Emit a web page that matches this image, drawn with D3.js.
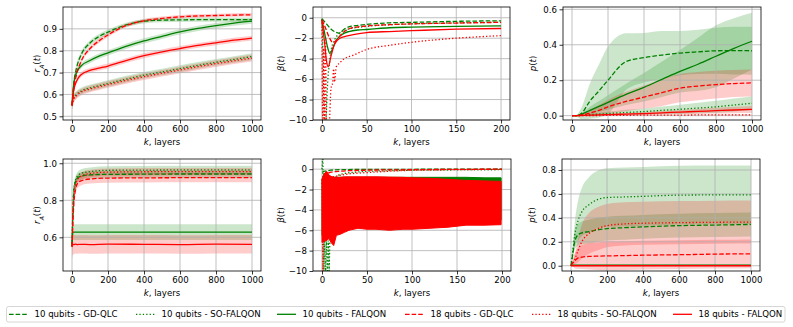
<!DOCTYPE html>
<html>
<head>
<meta charset="utf-8">
<script src="https://cdn.jsdelivr.net/npm/d3@7"></script>
<style>
body { margin: 0; background: #fff; }
text { font-family: "DejaVu Sans", sans-serif; }
</style>
</head>
<body>
<script>
// ---------- top left: r_A(t), 1000 layers ----------
var tl_k      = [0, 10, 25, 50, 100, 150, 200, 300, 400, 500, 600, 700, 800, 900, 1000];
var tl_gd10   = [0.55, 0.65, 0.72, 0.78, 0.835, 0.865, 0.885, 0.918, 0.935, 0.94, 0.941, 0.942, 0.942, 0.942, 0.942];
var tl_gd10sd = [0.02, 0.02, 0.018, 0.015, 0.012, 0.012, 0.012, 0.01, 0.01, 0.01, 0.01, 0.01, 0.01, 0.01, 0.01];
var tl_so10   = [0.55, 0.585, 0.6, 0.615, 0.63, 0.64, 0.65, 0.67, 0.688, 0.703, 0.718, 0.733, 0.747, 0.76, 0.773];
var tl_so10sd = [0.02, 0.018, 0.016, 0.015, 0.015, 0.015, 0.015, 0.015, 0.015, 0.015, 0.015, 0.015, 0.015, 0.015, 0.015];
var tl_fq10   = [0.55, 0.65, 0.7, 0.73, 0.755, 0.775, 0.79, 0.82, 0.845, 0.866, 0.886, 0.902, 0.915, 0.926, 0.935];
var tl_fq10sd = [0.02, 0.015, 0.013, 0.012, 0.012, 0.012, 0.012, 0.012, 0.012, 0.012, 0.012, 0.012, 0.012, 0.012, 0.012];
var tl_gd18   = [0.55, 0.63, 0.69, 0.75, 0.81, 0.845, 0.872, 0.915, 0.937, 0.948, 0.955, 0.959, 0.961, 0.963, 0.964];
var tl_gd18sd = [0.02, 0.015, 0.012, 0.01, 0.01, 0.01, 0.01, 0.008, 0.008, 0.008, 0.008, 0.008, 0.008, 0.008, 0.008];
var tl_so18   = [0.55, 0.58, 0.595, 0.61, 0.625, 0.635, 0.645, 0.664, 0.681, 0.697, 0.712, 0.727, 0.741, 0.754, 0.766];
var tl_so18sd = [0.02, 0.018, 0.016, 0.015, 0.015, 0.015, 0.015, 0.015, 0.015, 0.015, 0.015, 0.015, 0.015, 0.015, 0.015];
var tl_fq18   = [0.55, 0.62, 0.66, 0.69, 0.71, 0.72, 0.73, 0.755, 0.777, 0.795, 0.81, 0.824, 0.836, 0.848, 0.858];
var tl_fq18sd = [0.02, 0.013, 0.012, 0.011, 0.011, 0.011, 0.011, 0.011, 0.011, 0.011, 0.011, 0.011, 0.011, 0.011, 0.011];

// ---------- top middle: beta(t), 200 layers ----------
var tm_gd10k = [0, 5, 10, 15, 19, 25, 30, 40, 50, 75, 100, 150, 200];
var tm_gd10  = [-0.1, -0.6, -1.1, -1.4, -1.5, -1.1, -0.9, -0.75, -0.65, -0.5, -0.45, -0.35, -0.3];
var tm_so10k = [0, 1, 2, 3, 4, 5, 6, 7, 8, 10, 14, 20, 30, 50, 100, 200];
var tm_so10  = [-0.1, -3, -8, -10.5, -10.5, -9, -7, -5.5, -4.8, -3.3, -2.2, -1.5, -1.1, -0.85, -0.6, -0.45];
var tm_fq10k = [0, 3, 6, 9, 12, 16, 20, 25, 30, 40, 50, 75, 100, 150, 200];
var tm_fq10  = [-0.2, -1.5, -2.8, -3.5, -3.0, -2.2, -1.8, -1.5, -1.35, -1.2, -1.15, -0.98, -0.92, -0.85, -0.8];
var tm_gd18k = [0, 4, 8, 12, 15, 18, 23, 30, 40, 50, 75, 100, 150, 200];
var tm_gd18  = [-0.2, -1.0, -1.9, -2.4, -2.3, -2.0, -1.5, -1.1, -0.9, -0.8, -0.68, -0.6, -0.52, -0.45];
var tm_so18k = [0, 1, 2, 3, 4, 5, 6, 8, 10, 12, 13, 14, 15, 16, 20, 25, 34, 50, 75, 100, 150, 200];
var tm_so18  = [-0.2, -10.5, -3, -10.5, -2, -10.5, -10.5, -10.5, -7, -6.3, -5, -6.3, -5.5, -4.8, -4.4, -4.0, -3.7, -3.1, -2.7, -2.4, -2.0, -1.75];
var tm_fq18k = [0, 3, 5, 7, 10, 14, 20, 27, 35, 50, 75, 100, 150, 200];
var tm_fq18  = [-0.3, -2.5, -4.2, -4.8, -3.8, -2.6, -2.0, -1.8, -1.65, -1.45, -1.35, -1.27, -1.12, -1.05];

// ---------- top right: p(t), 1000 layers ----------
var tr_k      = [0, 25, 50, 100, 150, 200, 300, 400, 500, 600, 700, 800, 900, 1000];
var tr_gd10   = [0, 0, 0.01, 0.083, 0.14, 0.2, 0.305, 0.327, 0.342, 0.353, 0.36, 0.366, 0.367, 0.366];
var tr_gd10sd = [0, 0.005, 0.03, 0.1, 0.15, 0.19, 0.16, 0.14, 0.135, 0.125, 0.125, 0.13, 0.135, 0.135];
var tr_so10   = [0, 0, 0.002, 0.006, 0.009, 0.012, 0.018, 0.023, 0.03, 0.036, 0.043, 0.05, 0.06, 0.07];
var tr_so10sd = [0, 0, 0.002, 0.005, 0.008, 0.01, 0.015, 0.018, 0.022, 0.026, 0.03, 0.034, 0.037, 0.04];
var tr_fq10   = [0, 0, 0.007, 0.03, 0.052, 0.075, 0.12, 0.16, 0.205, 0.25, 0.29, 0.335, 0.38, 0.42];
var tr_fq10sd = [0, 0, 0.004, 0.02, 0.03, 0.04, 0.06, 0.08, 0.1, 0.12, 0.15, 0.175, 0.17, 0.16];
var tr_gd18   = [0, 0, 0.003, 0.015, 0.03, 0.05, 0.08, 0.105, 0.13, 0.155, 0.167, 0.175, 0.181, 0.185];
var tr_gd18sd = [0, 0, 0.005, 0.02, 0.03, 0.04, 0.055, 0.065, 0.075, 0.08, 0.08, 0.078, 0.076, 0.075];
var tr_so18   = [0, 0, 0, 0.001, 0.001, 0.002, 0.002, 0.003, 0.003, 0.003, 0.004, 0.004, 0.004, 0.004];
var tr_so18sd = [0, 0, 0, 0.001, 0.001, 0.002, 0.002, 0.002, 0.002, 0.002, 0.002, 0.002, 0.002, 0.002];
var tr_fq18   = [0, 0, 0.001, 0.003, 0.004, 0.006, 0.009, 0.012, 0.016, 0.02, 0.024, 0.028, 0.032, 0.035];
var tr_fq18sd = [0, 0, 0.001, 0.002, 0.003, 0.004, 0.006, 0.008, 0.01, 0.012, 0.014, 0.016, 0.018, 0.02];

// ---------- bottom left: r_A(t) ----------
var bl_k      = [0, 5, 10, 20, 30, 50, 100, 200, 400, 600, 800, 1000];
var bl_gd10   = [0.56, 0.74, 0.85, 0.9, 0.92, 0.93, 0.937, 0.94, 0.941, 0.942, 0.942, 0.942];
var bl_gd10sd = [0.05, 0.03, 0.025, 0.02, 0.02, 0.02, 0.02, 0.02, 0.02, 0.02, 0.02, 0.02];
var bl_so10   = [0.56, 0.75, 0.86, 0.91, 0.93, 0.945, 0.955, 0.962, 0.963, 0.964, 0.964, 0.964];
var bl_so10sd = [0.05, 0.03, 0.025, 0.022, 0.022, 0.022, 0.022, 0.022, 0.022, 0.022, 0.022, 0.022];
var bl_fq10   = [0.55, 0.628, 0.628, 0.628, 0.628, 0.628, 0.628, 0.628, 0.628, 0.628, 0.628, 0.628];
var bl_fq10sd = [0.05, 0.042, 0.042, 0.042, 0.042, 0.042, 0.042, 0.042, 0.042, 0.042, 0.042, 0.042];
var bl_gd18   = [0.55, 0.68, 0.78, 0.86, 0.89, 0.905, 0.915, 0.92, 0.921, 0.922, 0.922, 0.922];
var bl_gd18sd = [0.06, 0.04, 0.03, 0.025, 0.025, 0.025, 0.025, 0.025, 0.025, 0.025, 0.025, 0.025];
var bl_so18   = [0.55, 0.7, 0.8, 0.88, 0.91, 0.93, 0.945, 0.952, 0.954, 0.955, 0.955, 0.955];
var bl_so18sd = [0.06, 0.04, 0.03, 0.022, 0.02, 0.02, 0.02, 0.02, 0.02, 0.02, 0.02, 0.02];
var bl_fq18   = [0.55, 0.562, 0.561, 0.563, 0.561, 0.562, 0.561, 0.563, 0.562, 0.561, 0.563, 0.562];
var bl_fq18sd = [0.07, 0.055, 0.052, 0.05, 0.05, 0.05, 0.05, 0.05, 0.05, 0.05, 0.05, 0.05];

// ---------- bottom middle: beta(t) ----------
var bm_gd10k = [0, 3, 6, 10, 20, 50, 100, 200];
var bm_gd10  = [-0.3, -0.2, -0.15, -0.1, -0.05, -0.02, -0.01, 0];
var bm_so10k = [0, 1, 2, 3, 4, 5, 6, 7, 8, 10, 15, 20, 30, 50, 100, 200];
var bm_so10  = [0, 1.5, -10.5, -6.5, -10.5, -6.8, -10.5, -7, -10, -1.5, -0.8, -0.5, -0.35, -0.2, -0.1, -0.05];
var bm_gd18k = [0, 2, 5, 10, 20, 30, 50, 100, 150, 200];
var bm_gd18  = [-1.5, -1.0, -0.5, -0.3, -0.2, -0.15, -0.1, -0.05, -0.02, 0];
var bm_so18k = [0, 1, 2, 5, 10, 20, 30, 50, 75, 100, 125, 150, 200];
var bm_so18  = [-1, -10.5, -1.5, -1.1, -0.8, -0.6, -0.45, -0.33, -0.2, -0.1, -0.06, -0.04, -0.01];
// FALQON oscillates every layer: upper and lower envelope of the oscillation
var bm_fqk    = [0, 2, 5, 8, 10, 13, 16, 20, 25, 30, 40, 50, 60, 75, 90, 100, 120, 140, 160, 180, 199];
var bm_fq10hi = [-1.0, -0.5, -0.3, -0.7, -0.8, -0.8, -0.8, -0.8, -0.8, -0.8, -0.8, -0.8, -0.8, -0.8, -0.8, -0.8, -0.8, -0.8, -0.8, -0.85, -0.85];
var bm_fq10lo = [-6.5, -6.5, -6.3, -6.0, -6.0, -6.0, -5.8, -5.6, -5.5, -5.3, -5.2, -5.2, -5.2, -5.2, -5.2, -5.2, -5.1, -5.0, -5.0, -5.0, -5.0];
var bm_fq18hi = [-1.0, -0.5, -0.2, -0.6, -0.7, -0.8, -0.8, -0.8, -0.75, -0.75, -0.75, -0.75, -0.75, -0.78, -0.8, -0.85, -0.9, -1.0, -1.1, -1.15, -1.2];
var bm_fq18lo = [-7.2, -7.1, -7.0, -6.8, -7.2, -7.5, -6.5, -6.4, -6.2, -6.0, -5.8, -5.9, -5.9, -6.0, -5.9, -5.9, -5.8, -5.7, -5.5, -5.5, -5.45];

// ---------- bottom right: p(t) ----------
var br_k      = [0, 10, 20, 40, 60, 100, 150, 200, 300, 400, 600, 800, 1000];
var br_gd10   = [0, 0.1, 0.2, 0.26, 0.275, 0.285, 0.3, 0.31, 0.318, 0.325, 0.335, 0.34, 0.345];
var br_gd10sd = [0, 0.04, 0.07, 0.09, 0.095, 0.1, 0.1, 0.1, 0.1, 0.1, 0.1, 0.1, 0.1];
var br_so10   = [0, 0.12, 0.25, 0.38, 0.45, 0.51, 0.555, 0.57, 0.575, 0.58, 0.59, 0.592, 0.593];
var br_so10sd = [0, 0.05, 0.1, 0.17, 0.2, 0.23, 0.24, 0.245, 0.245, 0.245, 0.245, 0.245, 0.245];
var br_fq10   = [0.005, 0.005, 0.005, 0.005, 0.005, 0.005, 0.005, 0.005, 0.005, 0.005, 0.005, 0.005, 0.005];
var br_fq10sd = [0.003, 0.003, 0.003, 0.003, 0.003, 0.003, 0.003, 0.003, 0.003, 0.003, 0.003, 0.003, 0.003];
var br_gd18   = [0, 0.025, 0.04, 0.065, 0.072, 0.078, 0.08, 0.082, 0.085, 0.088, 0.092, 0.097, 0.1];
var br_gd18sd = [0, 0.03, 0.06, 0.09, 0.1, 0.11, 0.115, 0.12, 0.12, 0.12, 0.12, 0.12, 0.12];
var br_so18   = [0, 0.02, 0.05, 0.13, 0.2, 0.27, 0.31, 0.335, 0.35, 0.355, 0.36, 0.363, 0.365];
var br_so18sd = [0, 0.02, 0.04, 0.1, 0.14, 0.17, 0.18, 0.18, 0.18, 0.18, 0.18, 0.18, 0.18];
var br_fq18   = [0, 0, 0, 0, 0, 0, 0, 0, 0, 0, 0, 0, 0];
var br_fq18sd = [0.001, 0.001, 0.001, 0.001, 0.001, 0.001, 0.001, 0.001, 0.001, 0.001, 0.001, 0.001, 0.001];

// ticks
var kTicksLong  = [0, 200, 400, 600, 800, 1000];
var kTicksShort = [0, 50, 100, 150, 200];
var betaTicks   = [-10, -8, -6, -4, -2, 0];

var legendLabels = ["10 qubits - GD-QLC", "10 qubits - SO-FALQON", "10 qubits - FALQON",
                    "18 qubits - GD-QLC", "18 qubits - SO-FALQON", "18 qubits - FALQON"];

var GREEN = "#008000", RED = "#ff0000";
var styles = {
    gd10: { color: GREEN, dash: "4.6,2" },
    so10: { color: GREEN, dash: "1.3,2.1" },
    fq10: { color: GREEN, dash: null },
    gd18: { color: RED, dash: "4.6,2" },
    so18: { color: RED, dash: "1.3,2.1" },
    fq18: { color: RED, dash: null }
};
var order = ["gd10", "so10", "fq10", "gd18", "so18", "fq18"];

var FS = 8.6;
var svg = d3.select("body").append("svg").attr("width", 793).attr("height", 327);
var defs = svg.append("defs");

var minus = function (s) { return String(s).replace("-", "\u2212"); };

function makePanel(id, left, top, w, h, xd, yd, xt, yt, yfmt, ylab, ylabX) {
    var x = d3.scaleLinear().domain(xd).range([left, left + w]);
    var y = d3.scaleLinear().domain(yd).range([top + h, top]);
    var g = svg.append("g");

    defs.append("clipPath").attr("id", "clip" + id)
        .append("rect").attr("x", left).attr("y", top).attr("width", w).attr("height", h);

    var bands = g.append("g").attr("clip-path", "url(#clip" + id + ")");
    var grid = g.append("g");
    var lines = g.append("g").attr("clip-path", "url(#clip" + id + ")");

    grid.selectAll(".gx").data(xt).join("line")
        .attr("x1", d => x(d)).attr("x2", d => x(d))
        .attr("y1", top).attr("y2", top + h)
        .attr("stroke", "#b0b0b0").attr("stroke-width", 0.8);
    grid.selectAll(".gy").data(yt).join("line")
        .attr("x1", left).attr("x2", left + w)
        .attr("y1", d => y(d)).attr("y2", d => y(d))
        .attr("stroke", "#b0b0b0").attr("stroke-width", 0.8);

    var xAxis = d3.axisBottom(x).tickValues(xt).tickSizeInner(3.5).tickSizeOuter(0).tickPadding(2.5)
        .tickFormat(d3.format("d"));
    var yAxis = d3.axisLeft(y).tickValues(yt).tickSizeInner(3.5).tickSizeOuter(0).tickPadding(2.5)
        .tickFormat(d => minus(yfmt(d)));

    var ax = g.append("g").attr("transform", "translate(0," + (top + h) + ")").call(xAxis);
    var ay = g.append("g").attr("transform", "translate(" + left + ",0)").call(yAxis);
    [ax, ay].forEach(function (a) {
        a.select(".domain").remove();
        a.selectAll("text").style("font-size", FS + "px").attr("fill", "#000")
            .style("font-family", "DejaVu Sans");
        a.selectAll("line").attr("stroke", "#000").attr("stroke-width", 0.8);
    });

    g.append("rect").attr("x", left).attr("y", top).attr("width", w).attr("height", h)
        .attr("fill", "none").attr("stroke", "#000").attr("stroke-width", 0.8);

    // x label
    var xl = g.append("text").attr("x", left + w / 2).attr("y", top + h + 24.5)
        .attr("text-anchor", "middle").style("font-size", FS + "px");
    xl.append("tspan").style("font-style", "italic").text("k");
    xl.append("tspan").text(", layers");

    // y label
    var yl = g.append("text")
        .attr("transform", "translate(" + ylabX + "," + (top + h / 2) + ") rotate(-90)")
        .attr("text-anchor", "middle").style("font-size", FS + "px");
    ylab.forEach(function (p) {
        var t = yl.append("tspan").text(p.t);
        if (p.i) t.style("font-style", "italic");
        if (p.sub) t.attr("baseline-shift", "sub").style("font-size", (FS * 0.7) + "px");
    });

    return { x: x, y: y, bands: bands, lines: lines };
}

function band(p, k, m, sd, key) {
    var area = d3.area()
        .x((d, i) => p.x(k[i]))
        .y0((d, i) => p.y(m[i] - sd[i]))
        .y1((d, i) => p.y(m[i] + sd[i]))
        .curve(d3.curveMonotoneX);
    p.bands.append("path").datum(m).attr("d", area)
        .attr("fill", styles[key].color).attr("fill-opacity", 0.2);
}

function line(p, k, m, key, curve) {
    var ln = d3.line().x((d, i) => p.x(k[i])).y(d => p.y(d)).curve(curve || d3.curveMonotoneX);
    p.lines.append("path").datum(m).attr("d", ln)
        .attr("fill", "none").attr("stroke", styles[key].color)
        .attr("stroke-width", 1.3)
        .attr("stroke-dasharray", styles[key].dash);
}

var rLab = [{ t: "r", i: true }, { t: "A", i: true, sub: true }, { t: "(" }, { t: "t", i: true }, { t: ")" }];
var bLab = [{ t: "\u03b2", i: true }, { t: "(" }, { t: "t", i: true }, { t: ")" }];
var pLab = [{ t: "p", i: true }, { t: "(" }, { t: "t", i: true }, { t: ")" }];
var f1 = d3.format(".1f");

// ----- top left -----
var pTL = makePanel("tl", 63, 7, 198, 113, [-50, 1050], [0.483, 1.0], kTicksLong,
    [0.5, 0.6, 0.7, 0.8, 0.9], f1, rLab, 40);
var tlData = { gd10: [tl_gd10, tl_gd10sd], so10: [tl_so10, tl_so10sd], fq10: [tl_fq10, tl_fq10sd],
               gd18: [tl_gd18, tl_gd18sd], so18: [tl_so18, tl_so18sd], fq18: [tl_fq18, tl_fq18sd] };
order.forEach(key => band(pTL, tl_k, tlData[key][0], tlData[key][1], key));
order.forEach(key => line(pTL, tl_k, tlData[key][0], key));

// ----- top middle -----
var pTM = makePanel("tm", 313, 7, 197, 113, [-10, 210], [-10, 1.05], kTicksShort,
    betaTicks, d3.format("d"), bLab, 284);
var tmData = { gd10: [tm_gd10k, tm_gd10], so10: [tm_so10k, tm_so10], fq10: [tm_fq10k, tm_fq10],
               gd18: [tm_gd18k, tm_gd18], so18: [tm_so18k, tm_so18], fq18: [tm_fq18k, tm_fq18] };
order.forEach(key => line(pTM, tmData[key][0], tmData[key][1], key));

// ----- top right -----
var pTR = makePanel("tr", 563, 7, 198, 113, [-50, 1050], [-0.0245, 0.613], kTicksLong,
    [0, 0.2, 0.4, 0.6], f1, pLab, 536);
var trData = { gd10: [tr_gd10, tr_gd10sd], so10: [tr_so10, tr_so10sd], fq10: [tr_fq10, tr_fq10sd],
               gd18: [tr_gd18, tr_gd18sd], so18: [tr_so18, tr_so18sd], fq18: [tr_fq18, tr_fq18sd] };
order.forEach(key => band(pTR, tr_k, trData[key][0], trData[key][1], key));
order.forEach(key => line(pTR, tr_k, trData[key][0], key));

// ----- bottom left -----
var pBL = makePanel("bl", 63, 159, 198, 112, [-50, 1050], [0.418, 1.023], kTicksLong,
    [0.6, 0.8, 1.0], f1, rLab, 40);
var blData = { gd10: [bl_gd10, bl_gd10sd], so10: [bl_so10, bl_so10sd], fq10: [bl_fq10, bl_fq10sd],
               gd18: [bl_gd18, bl_gd18sd], so18: [bl_so18, bl_so18sd], fq18: [bl_fq18, bl_fq18sd] };
order.forEach(key => band(pBL, bl_k, blData[key][0], blData[key][1], key));
order.forEach(key => line(pBL, bl_k, blData[key][0], key));

// ----- bottom middle -----
var pBM = makePanel("bm", 313, 159, 198, 112, [-10, 210], [-10, 1], kTicksShort,
    betaTicks, d3.format("d"), bLab, 284);
function envelope(p, k, hi, lo, key) {
    var area = d3.area().x((d, i) => p.x(k[i])).y0((d, i) => p.y(lo[i])).y1(d => p.y(d))
        .curve(d3.curveLinear);
    p.lines.append("path").datum(hi).attr("d", area)
        .attr("fill", styles[key].color).attr("stroke", styles[key].color).attr("stroke-width", 1);
}
line(pBM, bm_gd10k, bm_gd10, "gd10");
line(pBM, bm_so10k, bm_so10, "so10", d3.curveLinear);
envelope(pBM, bm_fqk, bm_fq10hi, bm_fq10lo, "fq10");
line(pBM, bm_gd18k, bm_gd18, "gd18");
line(pBM, bm_so18k, bm_so18, "so18", d3.curveLinear);
envelope(pBM, bm_fqk, bm_fq18hi, bm_fq18lo, "fq18");

// ----- bottom right -----
var pBR = makePanel("br", 562, 159, 198, 112, [-50, 1050], [-0.044, 0.892], kTicksLong,
    [0, 0.2, 0.4, 0.6, 0.8], f1, pLab, 535);
var brData = { gd10: [br_gd10, br_gd10sd], so10: [br_so10, br_so10sd], fq10: [br_fq10, br_fq10sd],
               gd18: [br_gd18, br_gd18sd], so18: [br_so18, br_so18sd], fq18: [br_fq18, br_fq18sd] };
order.forEach(key => band(pBR, br_k, brData[key][0], brData[key][1], key));
order.forEach(key => line(pBR, br_k, brData[key][0], key));

// ----- legend -----
var lg = svg.append("g");
lg.append("rect").attr("x", 6.5).attr("y", 306.5).attr("width", 778.5).attr("height", 15.5)
    .attr("rx", 2).attr("fill", "#fff").attr("stroke", "#cccccc").attr("stroke-width", 0.8);
var handleX = [9, 136, 277, 405, 532, 673];
order.forEach(function (key, i) {
    lg.append("line").attr("x1", handleX[i]).attr("x2", handleX[i] + 19)
        .attr("y1", 314.3).attr("y2", 314.3)
        .attr("stroke", styles[key].color).attr("stroke-width", 1.3)
        .attr("stroke-dasharray", styles[key].dash);
    lg.append("text").attr("x", handleX[i] + 25.5).attr("y", 317.3)
        .style("font-size", FS + "px").text(legendLabels[i]);
});
</script>
</body>
</html>
